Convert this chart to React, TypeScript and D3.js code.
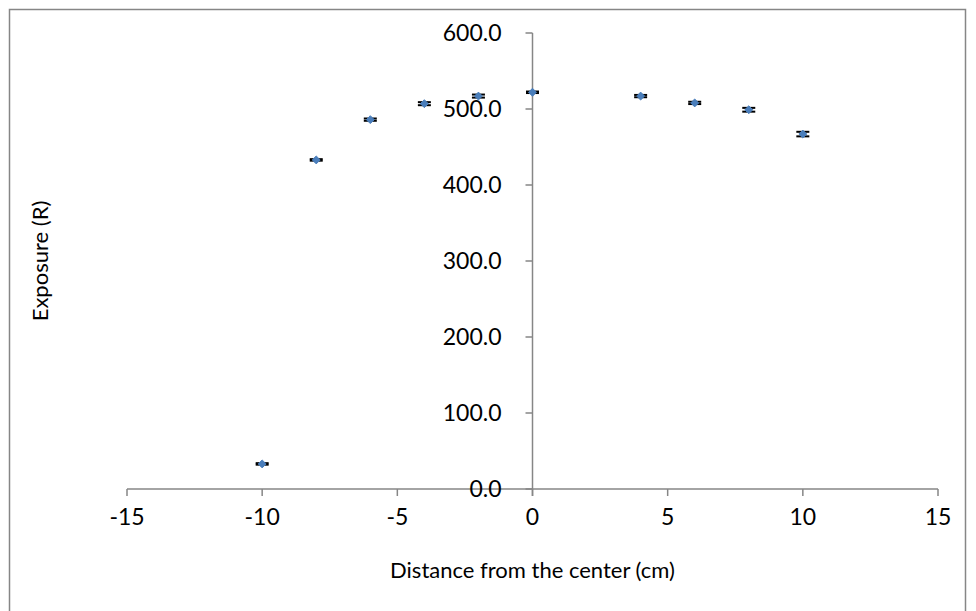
import React from "react";
import * as d3 from "d3";

const distances = [-10, -8, -6, -4, -2, 0, 4, 6, 8, 10];
const exposure = [33, 433, 486, 507, 517, 522, 517, 508, 499, 467];
const exposureErr = [1, 1, 1.5, 2, 2, 1, 1.5, 1.5, 2.5, 3];
const xTicks = [-15, -10, -5, 0, 5, 10, 15];
const yTicks = [0, 100, 200, 300, 400, 500, 600];

const W = 976;
const H = 611;
const FONT = "Lato, 'Open Sans', sans-serif";

export default function App() {
  const x = d3.scaleLinear().domain([-15, 15]).range([127, 938]);
  const y = d3.scaleLinear().domain([0, 600]).range([489, 33]);
  const axisColor = "#868686";
  const x0 = x(0);
  const y0 = y(0);
  const diamond = d3.symbol().type(d3.symbolDiamond2).size(40)();
  return (
    <svg width={W} height={H} style={{ position: "absolute", left: 0, top: 0 }}>
      <rect x={0} y={0} width={W} height={H} fill="#fff" />
      <rect x={9.5} y={9.5} width={956} height={640} fill="none" stroke="#868686" strokeWidth={1.5} />
      {/* x axis */}
      <line x1={x(-15)} x2={x(15)} y1={y0} y2={y0} stroke={axisColor} strokeWidth={1.5} />
      {xTicks.map((t) => (
        <g key={"xt" + t}>
          <line x1={x(t)} x2={x(t)} y1={y0} y2={y0 + 7} stroke={axisColor} strokeWidth={1.5} />
          <text x={x(t)} y={y0 + 36} textAnchor="middle" fontFamily={FONT} fontSize={23} fill="#000">
            {t}
          </text>
        </g>
      ))}
      {/* y axis */}
      <line x1={x0} x2={x0} y1={y(600)} y2={y0 + 7} stroke={axisColor} strokeWidth={1.5} />
      {yTicks.map((t) => (
        <g key={"yt" + t}>
          <line x1={x0 - 7} x2={x0} y1={y(t)} y2={y(t)} stroke={axisColor} strokeWidth={1.5} />
          <text x={x0 - 31} y={y(t)} dy="0.35em" textAnchor="end" fontFamily={FONT} fontSize={23} fill="#000">
            {t.toFixed(1)}
          </text>
        </g>
      ))}
      {/* error bars */}
      {distances.map((d, i) => {
        const cx = x(d);
        const ty = y(exposure[i] + exposureErr[i]);
        const by = y(exposure[i] - exposureErr[i]);
        return (
          <g key={"eb" + i} stroke="#000" strokeWidth={2}>
            <line x1={cx} x2={cx} y1={ty} y2={by} />
            <line x1={cx - 6.5} x2={cx + 6.5} y1={ty} y2={ty} />
            <line x1={cx - 6.5} x2={cx + 6.5} y1={by} y2={by} />
          </g>
        );
      })}
      {/* markers */}
      {distances.map((d, i) => (
        <path key={"m" + i} d={diamond || ""} transform={`translate(${x(d)},${y(exposure[i])})`} fill="#4A7EBB" stroke="#4A7EBB" strokeWidth={1} />
      ))}
      <text x={x0} y={578} textAnchor="middle" fontFamily={FONT} fontSize={22} fill="#000">
        Distance from the center (cm)
      </text>
      <text transform={`translate(48,${(y(0) + y(600)) / 2}) rotate(-90)`} textAnchor="middle" fontFamily={FONT} fontSize={22} fill="#000">
        Exposure (R)
      </text>
    </svg>
  );
}
